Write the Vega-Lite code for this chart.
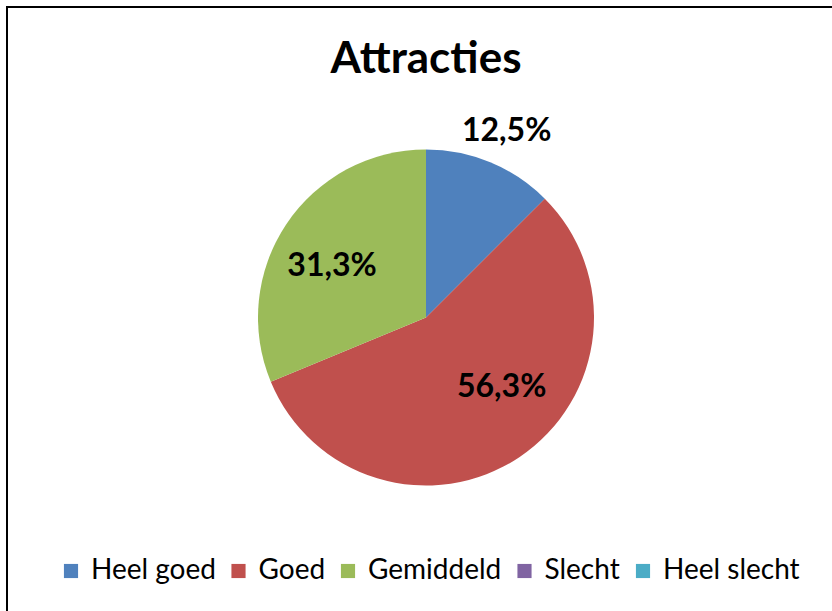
{
  "$schema": "https://vega.github.io/schema/vega-lite/v6.json",
  "autosize": {"type": "pad"},
  "padding": {"left": 7, "top": 7, "right": 0, "bottom": 0},
  "width": 838,
  "height": 621,
  "background": "white",
  "title": {
    "text": "Attracties",
    "anchor": "middle",
    "font": "Lato",
    "fontSize": 44,
    "fontWeight": "bold",
    "color": "black",
    "baseline": "alphabetic",
    "offset": -68,
    "dy": 42
  },
  "data": {
    "values": [
      {"i": 1, "cat": "Heel goed", "value": 12.5, "label": "12,5%"},
      {"i": 2, "cat": "Goed", "value": 56.25, "label": "56,3%"},
      {"i": 3, "cat": "Gemiddeld", "value": 31.25, "label": "31,3%"},
      {"i": 4, "cat": "Slecht", "value": 0, "label": ""},
      {"i": 5, "cat": "Heel slecht", "value": 0, "label": ""}
    ]
  },
  "encoding": {
    "theta": {"field": "value", "type": "quantitative", "stack": true},
    "order": {"field": "i", "type": "quantitative"}
  },
  "layer": [
    {
      "mark": {"type": "arc", "outerRadius": 168},
      "encoding": {
        "color": {
          "field": "cat",
          "type": "nominal",
          "scale": {
            "domain": ["Heel goed", "Goed", "Gemiddeld", "Slecht", "Heel slecht"],
            "range": ["#4F81BD", "#C0504D", "#9BBB59", "#8064A2", "#4BACC6"]
          },
          "legend": {
            "title": null,
            "orient": "none",
            "direction": "horizontal",
            "columns": 5,
            "legendX": 50,
            "legendY": 550,
            "symbolType": "square",
            "symbolSize": 200,
            "symbolStrokeWidth": 0,
            "symbolOpacity": 1,
            "labelFont": "Lato",
            "labelFontSize": 28,
            "labelColor": "black",
            "labelOffset": 6,
            "columnPadding": 8.5,
            "labelLimit": 300
          }
        }
      }
    },
    {
      "mark": {"type": "text", "radius": 203, "font": "Lato", "fontSize": 32, "fontWeight": "bold", "color": "black", "baseline": "middle", "align": "center", "dx": 3, "dy": 1},
      "encoding": {
        "text": {"condition": {"test": "datum.cat === 'Heel goed'", "field": "label"}, "value": ""}
      }
    },
    {
      "mark": {"type": "text", "radius": 102, "font": "Lato", "fontSize": 32, "fontWeight": "bold", "color": "black", "baseline": "middle", "align": "center", "dx": 19, "dy": -15},
      "encoding": {
        "text": {"condition": {"test": "datum.cat === 'Goed'", "field": "label"}, "value": ""}
      }
    },
    {
      "mark": {"type": "text", "radius": 107, "font": "Lato", "fontSize": 32, "fontWeight": "bold", "color": "black", "baseline": "middle", "align": "center", "dx": -5, "dy": 8},
      "encoding": {
        "text": {"condition": {"test": "datum.cat === 'Gemiddeld'", "field": "label"}, "value": ""}
      }
    }
  ],
  "view": {"stroke": "black", "strokeWidth": 2}
}
